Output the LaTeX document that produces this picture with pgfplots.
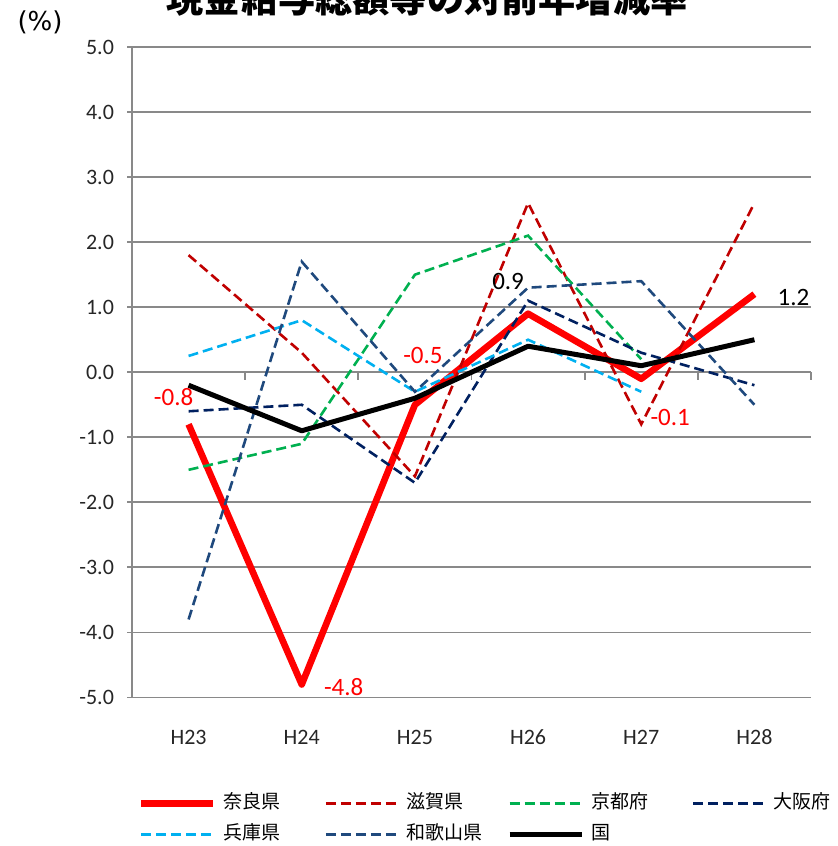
\documentclass[border=0pt]{standalone}
\usepackage{pgfplots}
\pgfplotsset{compat=1.18}
\usepackage{pgfplotstable}
\usepackage{fontspec}
\setmainfont{Carlito}
\newfontfamily\cjk{Noto Sans CJK JP}
\newfontfamily\djv{DejaVu Sans}

\definecolor{nara}{HTML}{FF0000}
\definecolor{shiga}{HTML}{C00000}
\definecolor{kyoto}{HTML}{00B050}
\definecolor{osaka}{HTML}{002060}
\definecolor{hyogo}{HTML}{00B0F0}
\definecolor{waka}{HTML}{1F497D}
\definecolor{gridc}{HTML}{898989}

% H23 ... H28 sit at 0.5 ... 5.5
\pgfplotstableread{
x    nara  shiga  kyoto  osaka  hyogo  waka  kuni
0.5  -0.8   1.8   -1.5   -0.6   0.25  -3.8  -0.2
1.5  -4.8   0.3   -1.1   -0.5   0.8    1.7  -0.9
2.5  -0.5  -1.6    1.5   -1.7  -0.3   -0.3  -0.4
3.5   0.9   2.6    2.1    1.1   0.5    1.3   0.4
4.5  -0.1  -0.8    0.2    0.3  -0.3    1.4   0.1
5.5   1.2   2.6    nan   -0.2   nan   -0.5   0.5
}\rates

% data labels: offsets in pt from the point
\pgfplotstableread{
x    y     dx    dy     lab
0.5  -0.8  -7.5  13.5   -0.8
1.5  -4.8  21    -1.5   -4.8
2.5  -0.5  4     24.5   -0.5
4.5  -0.1  14.5  -19.5  -0.1
}\redlab
\pgfplotstableread{
x    y    dx    dy    lab
3.5  0.9  -10   16    0.9
5.5  1.2  19.5  -1.5  1.2
}\blacklab

\begin{document}
\begin{tikzpicture}
\begin{axis}[
    at={(66pt,74.25pt)}, anchor=south west,
    scale only axis, width=339.5pt, height=325.25pt,
    xmin=0, xmax=6, ymin=-5, ymax=5,
    clip=false,
    axis x line=bottom, axis y line=left,
    x axis line style={draw=none},
    y axis line style={draw=gridc, line width=0.9pt, -},
    xtick={0.5,1.5,2.5,3.5,4.5,5.5},
    xticklabels={H23,H24,H25,H26,H27,H28},
    major x tick style={draw=none},
    xticklabel style={anchor=center, yshift=-18.75pt},
    ytick={-5,-4,...,5},
    ymajorgrids, grid style={gridc, line width=0.9pt},
    ytick align=outside, major tick length=2.5pt,
    major y tick style={gridc, line width=0.9pt},
    yticklabel style={xshift=-3pt, /pgf/number format/.cd, fixed, fixed zerofill, precision=1},
    /pgf/number format/assume math mode=true,
    tick label style={font=\fontsize{11}{13}\selectfont, text=black!85},
    legend columns=4,
    legend cell align=left,
    legend style={at={(0.0088,-0.1493)}, anchor=north west, draw=none, fill=none,
        inner sep=0pt, outer sep=0pt,
        nodes={inner sep=0pt, text height=7pt, text depth=2pt},
        font=\cjk\fontsize{9.5}{11}\selectfont,
        /tikz/every odd column/.append style={column sep=3.5pt},
        /tikz/every even column/.append style={column sep=0pt},
        row sep=6.5pt},
    legend image code/.code={\draw[#1] (0pt,0pt) -- (36pt,0pt);},
]

% tick marks below the zero line
\pgfplotsinvokeforeach{1,...,6}{\draw[gridc, line width=0.9pt] (axis cs:#1,0) -- ([yshift=-4pt]axis cs:#1,0);}

\addplot[nara, line width=3.3pt, line join=round] table[x=x, y=nara]{\rates};
\addlegendentry{\makebox[50.5pt][l]{奈良県}}
\addplot[shiga, line width=1.3pt, dash pattern=on 5pt off 2.5pt] table[x=x, y=shiga]{\rates};
\addlegendentry{\makebox[50.5pt][l]{滋賀県}}
\addplot[kyoto, line width=1.3pt, dash pattern=on 5pt off 2.5pt] table[x=x, y=kyoto]{\rates};
\addlegendentry{\makebox[50.5pt][l]{京都府}}
\addplot[osaka, line width=1.3pt, dash pattern=on 5pt off 2.5pt] table[x=x, y=osaka]{\rates};
\addlegendentry{\makebox[50.5pt][l]{大阪府}}
\addplot[hyogo, line width=1.3pt, dash pattern=on 5pt off 2.5pt] table[x=x, y=hyogo]{\rates};
\addlegendentry{\makebox[50.5pt][l]{兵庫県}}
\addplot[waka, line width=1.3pt, dash pattern=on 5pt off 2.5pt] table[x=x, y=waka]{\rates};
\addlegendentry{\makebox[50.5pt][l]{和歌山県}}
\addplot[black, line width=2.5pt, line join=round] table[x=x, y=kuni]{\rates};
\addlegendentry{\makebox[50.5pt][l]{国}}

\addplot[draw=none, mark=none, forget plot,
    nodes near coords, point meta=explicit symbolic,
    visualization depends on={\thisrow{dx} \as \dx},
    visualization depends on={\thisrow{dy} \as \dy},
    nodes near coords style={anchor=center, text=nara,
        font=\fontsize{12.5}{14}\selectfont, xshift=\dx*1pt, yshift=\dy*1pt}]
    table[x=x, y=y, meta=lab]{\redlab};
\addplot[draw=none, mark=none, forget plot,
    nodes near coords, point meta=explicit symbolic,
    visualization depends on={\thisrow{dx} \as \dx},
    visualization depends on={\thisrow{dy} \as \dy},
    nodes near coords style={anchor=center, text=black,
        font=\fontsize{12.5}{14}\selectfont, xshift=\dx*1pt, yshift=\dy*1pt}]
    table[x=x, y=y, meta=lab]{\blacklab};
\end{axis}

\node[font=\djv\fontsize{13}{15}\selectfont] at (20pt,412pt) {(\%)};
\node[font=\cjk\bfseries\fontsize{18.6}{20}\selectfont] at (213.5pt,424pt) {現金給与総額等の対前年増減率};

\pgfresetboundingbox
\useasboundingbox (0,0) rectangle (419pt,423pt);
\end{tikzpicture}
\end{document}
